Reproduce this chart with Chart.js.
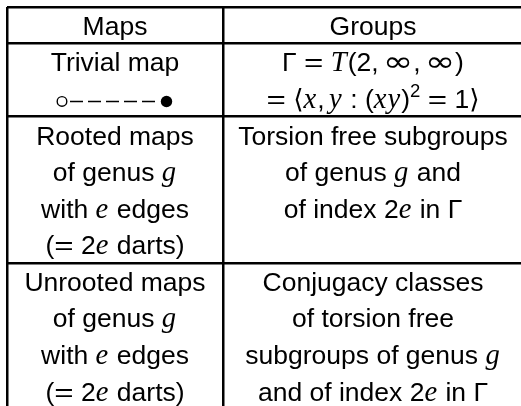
<!DOCTYPE html>
<html>
<head>
<meta charset="utf-8">
<script src="https://cdn.jsdelivr.net/npm/chart.js@4/dist/chart.umd.min.js"></script>
<style>
    html, body { margin: 0; padding: 0; background: #fff; }
    #wrap { width: 521px; height: 406px; position: relative; }
</style>
</head>
<body>
<div id="wrap"><canvas id="graficoTabela"></canvas></div>
<script>
// Table content (one entry per row, one string per text line; $...$ = math)
const columnTitles = ['Maps', 'Groups'];
const mapsCells = [
    ['Trivial map', '{map}'],
    ['Rooted maps', 'of genus $g$', 'with $e$ edges', '$(=2e$ darts)'],
    ['Unrooted maps', 'of genus $g$', 'with $e$ edges', '$(=2e$ darts)']
];
const groupsCells = [
    ['$Γ=T(2,∞,∞)$', '$=⟨x,y:(xy)^2=1⟩$'],
    ['Torsion free subgroups', 'of genus $g$ and', 'of index $2e$ in $Γ$'],
    ['Conjugacy classes', 'of torsion free', 'subgroups of genus $g$', 'and of index $2e$ in $Γ$']
];

// Layout
const COL_EDGES = [0, 216, 516];
const FONT_SIZE = 26.5;
const SANS = '"Liberation Sans", "DejaVu Sans", sans-serif';
const SERIF = '"Liberation Serif", "DejaVu Serif", serif';
const SYMBOL = '"DejaVu Sans", sans-serif';

const columns = [
    [[columnTitles[0]]].concat(mapsCells),
    [[columnTitles[1]]].concat(groupsCells)
];

// row edges in line units, from the tallest cell of each row
const rowEdges = [0];
columns[0].forEach((cell, r) => {
    const n = Math.max(cell.length, columns[1][r].length);
    rowEdges.push(rowEdges[r] + n);
});

// split a line into styled runs, with rough TeX spacing inside math
function parseRuns(str) {
    const runs = [];
    let math = false;
    const thick = FONT_SIZE * 0.28, thin = FONT_SIZE * 0.167;
    for (let i = 0; i < str.length; i++) {
        const c = str[i];
        if (c === '$') { math = !math; continue; }
        if (!math) {
            const last = runs[runs.length - 1];
            if (last && last.style === 'sans' && !last.math) last.t += c;
            else runs.push({ t: c, style: 'sans', pl: 0, pr: 0, sx: 1 });
            continue;
        }
        const prev = runs[runs.length - 1];
        const run = { t: c, style: 'sans', pl: 0, pr: 0, sx: 1, math: true };
        if (c === '^') { run.t = str[++i]; run.style = 'sup'; }
        else if (/[A-Za-z]/.test(c)) run.style = 'it';
        else if (c === '=' || c === ':') {
            run.pl = prev && prev.math && prev.t !== '(' ? thick : 0;
            run.pr = thick;
            if (c === '=') run.sx = 1.25;
        }
        else if (c === ',') run.pr = thin;
        else if (c === '∞') { run.style = 'sym'; run.sx = 1.3; }
        runs.push(run);
    }
    return runs;
}

function runFont(style) {
    if (style === 'it') return 'italic ' + (FONT_SIZE * 1.08) + 'px ' + SERIF;
    if (style === 'sup') return (FONT_SIZE * 0.7) + 'px ' + SANS;
    if (style === 'sym') return (FONT_SIZE * 1.05) + 'px ' + SYMBOL;
    return FONT_SIZE + 'px ' + SANS;
}

function drawLine(ctx, str, cx, baseline) {
    const runs = parseRuns(str);
    let total = 0;
    runs.forEach(run => {
        ctx.font = runFont(run.style);
        run.w = ctx.measureText(run.t).width * run.sx;
        if (run.style === 'it') run.w += 1;
        total += run.pl + run.w + run.pr;
    });
    let xPos = cx - total / 2;
    runs.forEach(run => {
        ctx.font = runFont(run.style);
        const yPos = run.style === 'sup' ? baseline - FONT_SIZE * 0.42 : baseline;
        xPos += run.pl;
        ctx.save();
        ctx.translate(xPos, yPos);
        ctx.scale(run.sx, 1);
        ctx.fillText(run.t, 0, 0);
        ctx.restore();
        xPos += run.w + run.pr;
    });
}

// small drawing of the trivial map: open vertex, dashed edge, filled vertex
function drawMap(ctx, cx, cy) {
    const yc = cy + 3;
    ctx.save();
    ctx.strokeStyle = '#000';
    ctx.lineWidth = 1.4;
    ctx.beginPath();
    ctx.arc(cx - 53, yc, 4.8, 0, Math.PI * 2);
    ctx.stroke();
    ctx.lineWidth = 1.4;
    ctx.setLineDash([13, 5]);
    ctx.beginPath();
    ctx.moveTo(cx - 45, yc);
    ctx.lineTo(cx + 40, yc);
    ctx.stroke();
    ctx.setLineDash([]);
    ctx.beginPath();
    ctx.arc(cx + 51.5, yc, 5.7, 0, Math.PI * 2);
    ctx.fill();
    ctx.restore();
}

const tableText = {
    id: 'tableText',
    afterDraw(chart) {
        const { ctx, scales: { x, y } } = chart;
        ctx.save();
        ctx.fillStyle = '#000';
        ctx.textBaseline = 'alphabetic';
        columns.forEach((cells, c) => {
            const cx = x.getPixelForValue((COL_EDGES[c] + COL_EDGES[c + 1]) / 2);
            cells.forEach((lines, r) => {
                lines.forEach((line, i) => {
                    const cy = y.getPixelForValue(rowEdges[r] + i + 0.5);
                    if (line === '{map}') drawMap(ctx, cx, cy);
                    else drawLine(ctx, line, cx, cy + FONT_SIZE * 0.36);
                });
            });
        });
        ctx.restore();
    }
};

function gridScale(edges, extra) {
    return Object.assign({
        type: 'linear',
        ticks: { display: false },
        grid: { color: '#000', lineWidth: 2.5, drawTicks: false },
        border: { display: false },
        afterBuildTicks: s => { s.ticks = edges.map(v => ({ value: v })); }
    }, extra);
}

let chartTabela;

function initChart() {
    const ctx = document.getElementById('graficoTabela').getContext('2d');
    chartTabela = new Chart(ctx, {
        type: 'scatter',
        data: { datasets: [] },
        options: {
            responsive: true,
            maintainAspectRatio: false,
            animation: false,
            layout: { padding: { top: 7, left: 7, right: 0, bottom: 0 } },
            plugins: { legend: { display: false }, tooltip: { enabled: false } },
            scales: {
                x: gridScale(COL_EDGES.slice(0, 2), {
                    min: 0, max: 514, position: 'bottom',
                    afterFit: s => { s.height = 0; }
                }),
                y: gridScale(rowEdges.slice(0, 4), {
                    min: 0, max: 10.91, reverse: true, position: 'left',
                    afterFit: s => { s.width = 0; }
                })
            }
        },
        plugins: [tableText]
    });
}

document.addEventListener('DOMContentLoaded', initChart);
</script>
</body>
</html>
